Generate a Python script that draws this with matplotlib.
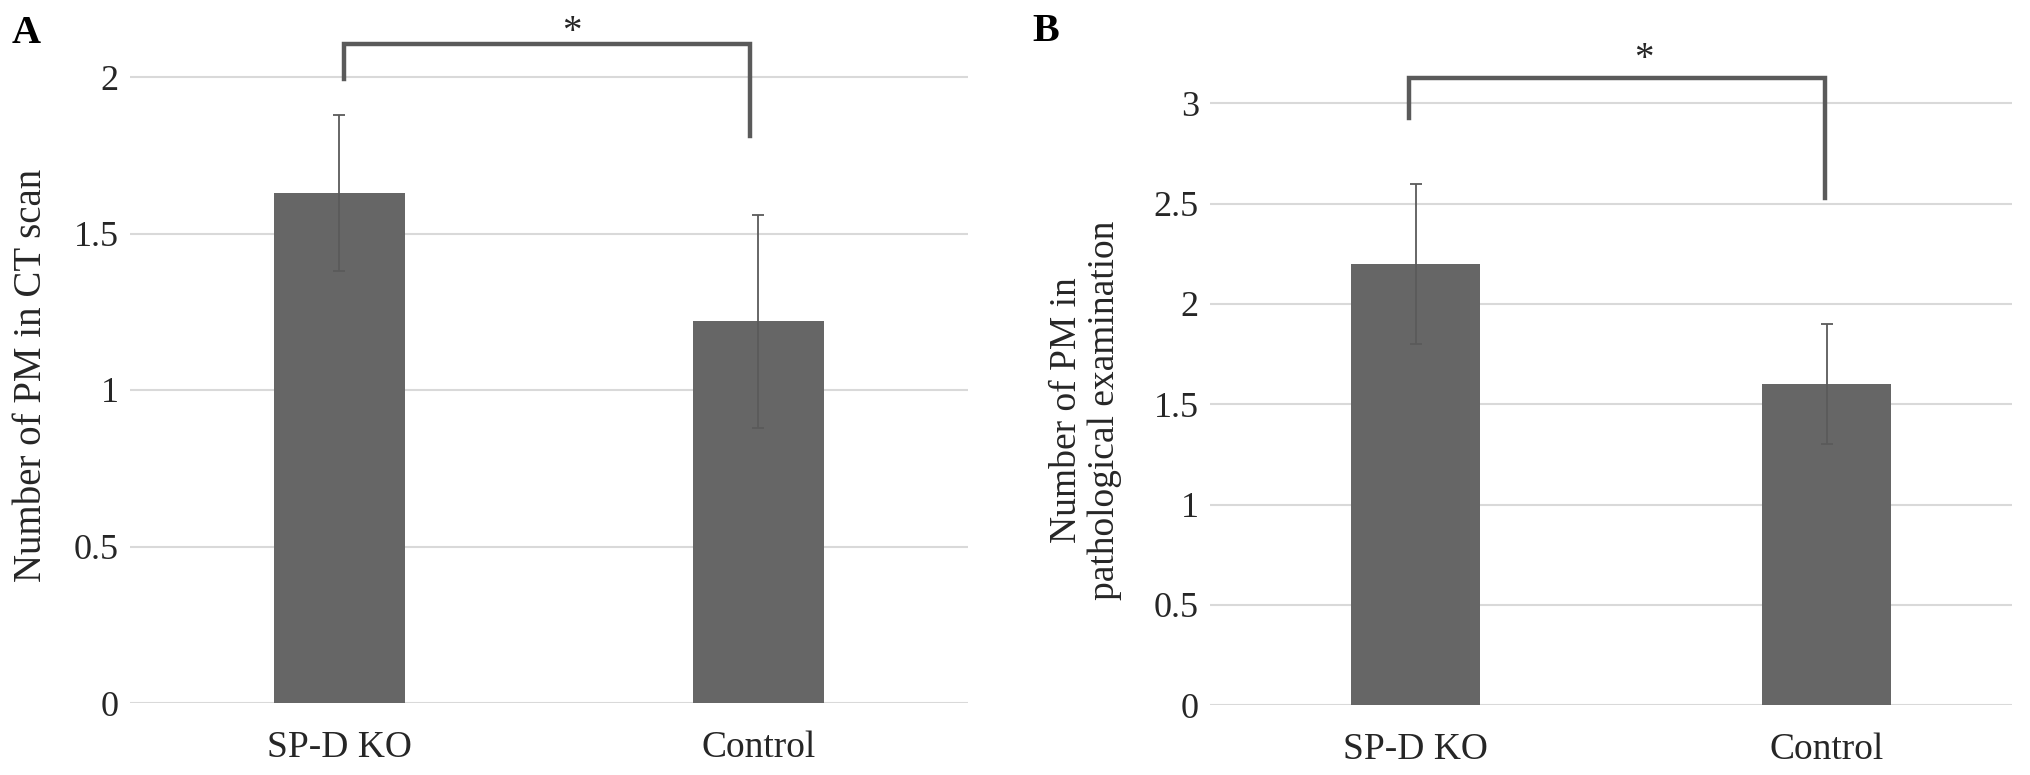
import matplotlib
matplotlib.use('Agg')
import matplotlib.pyplot as plt

plt.rcParams['font.family'] = ['Liberation Serif', 'DejaVu Serif']

groups = ['SP-D KO', 'Control']

ct_mean = [1.63, 1.22]
ct_err = [0.25, 0.34]

path_mean = [2.2, 1.6]
path_err = [0.4, 0.3]

ct_ticks = [0, 0.5, 1, 1.5, 2]
path_ticks = [0, 0.5, 1, 1.5, 2, 2.5, 3]
tick_text_ct = ['0', '0.5', '1', '1.5', '2']
tick_text_path = ['0', '0.5', '1', '1.5', '2', '2.5', '3']

BAR = '#666666'
LINE = '#5a5a5a'
GRID = '#d9d9d9'
TXT = '#262626'

W, H = 2031, 775
fig = plt.figure(figsize=(W / 100, H / 100), dpi=100)

ax1 = fig.add_axes([130 / W, (H - 703) / H, 838 / W, 688.6 / H])
ax2 = fig.add_axes([1210 / W, (H - 705) / H, 802 / W, 681.7 / H])


def style_axis(ax, ticks, labels, top, right):
    ax.set_xlim(-0.5, right)
    ax.set_ylim(0, top)
    ax.set_yticks(ticks)
    ax.set_yticklabels(labels)
    ax.set_xticks(range(len(groups)))
    ax.set_xticklabels(groups)
    for s in ax.spines.values():
        s.set_visible(False)
    ax.grid(axis='y', color=GRID, linewidth=1.5)
    ax.set_axisbelow(True)
    ax.tick_params(axis='y', length=0, pad=8, labelsize=26, labelcolor=TXT)
    ax.tick_params(axis='x', length=0, pad=20, labelsize=27, labelcolor=TXT)


ax1.bar(range(len(groups)), ct_mean, width=0.315, color=BAR, zorder=2)
ax1.errorbar(range(len(groups)), ct_mean, yerr=ct_err, fmt='none', ecolor=LINE,
             elinewidth=1.3, capsize=4, capthick=1.3, zorder=3)
style_axis(ax1, ct_ticks, tick_text_ct, 2.2, 1.5)
ax1.set_ylabel('Number of PM in CT scan', fontsize=28, color=TXT, va='center')
ax1.yaxis.set_label_coords(-0.117, 0.476)
ax1.plot([0.01, 0.01, 0.98, 0.98], [1.994, 2.107, 2.107, 1.81], color=LINE,
         linewidth=3.2, clip_on=False, solid_joinstyle='miter', zorder=4)
ax1.text(0.554, 2.142, '*', ha='center', va='center', fontsize=28, color=TXT, clip_on=False)

ax2.bar(range(len(groups)), path_mean, width=0.314, color=BAR, zorder=2)
ax2.errorbar(range(len(groups)), path_mean, yerr=path_err, fmt='none', ecolor=LINE,
             elinewidth=1.3, capsize=4, capthick=1.3, zorder=3)
style_axis(ax2, path_ticks, tick_text_path, 3.4, 1.45)
ax2.set_ylabel('Number of PM in\npathological examination', fontsize=27, color=TXT,
               va='center', linespacing=1.15)
ax2.yaxis.set_label_coords(-0.155, 0.433)
ax2.plot([-0.015, -0.015, 0.995, 0.995], [2.93, 3.125, 3.125, 2.527], color=LINE,
         linewidth=3.2, clip_on=False, solid_joinstyle='miter', zorder=4)
ax2.text(0.555, 3.217, '*', ha='center', va='center', fontsize=28, color=TXT, clip_on=False)

fig.text(12 / W, 1 - 15 / H, 'A', fontsize=29, fontweight='bold', va='top', ha='left')
fig.text(1032 / W, 1 - 13 / H, 'B', fontsize=29, fontweight='bold', va='top', ha='left')

fig.savefig('out.png', dpi=100)
plt.close()
